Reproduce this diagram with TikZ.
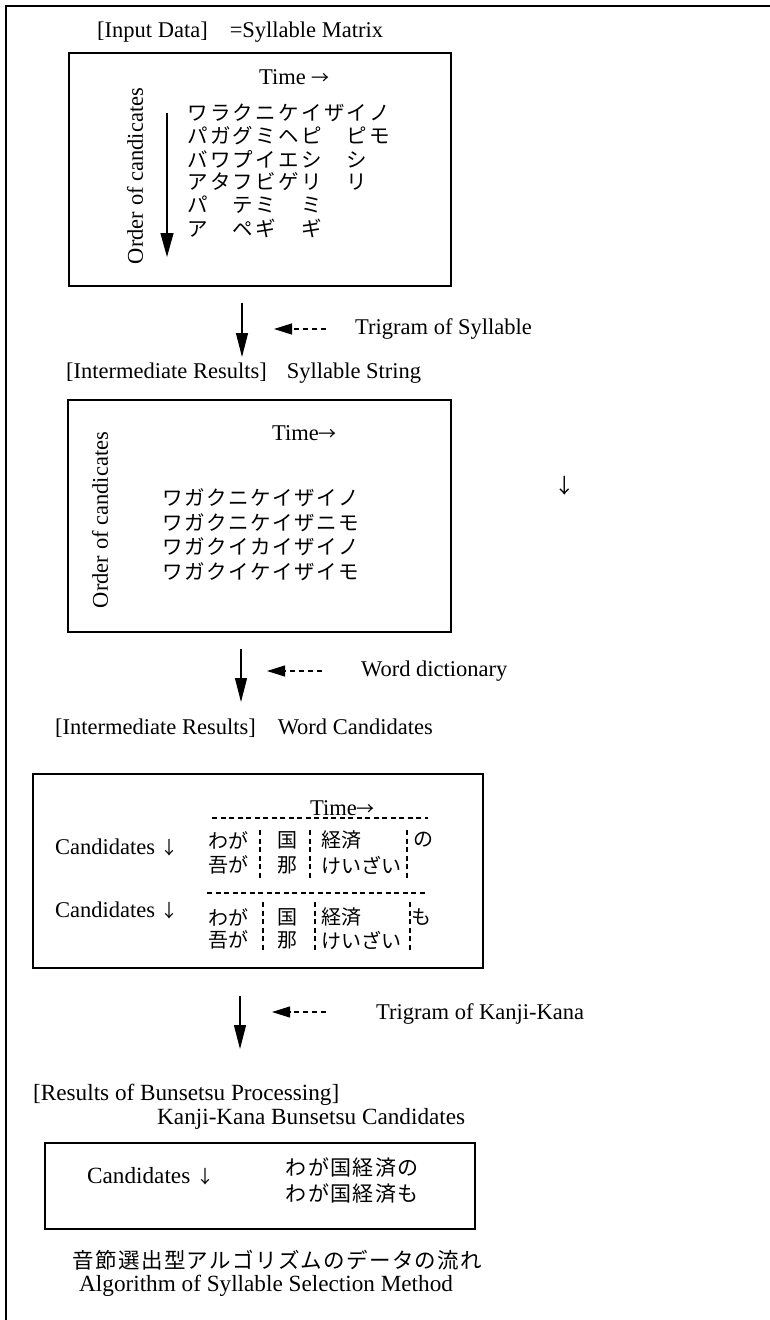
\documentclass[tikz,border=0pt]{standalone}
\usepackage{fontspec}
\setmainfont{Liberation Serif}
\newfontfamily\jp{Noto Sans CJK JP}
\usetikzlibrary{arrows.meta}

% a row of kana set in fixed-width cells: \kanarow{<cell width>}{<characters>}
\makeatletter
\newdimen\kcw
\def\kana@stop{\kana@stop}
\def\kanarow#1#2{\kcw=#1\relax\expandafter\kana@row#2\kana@stop}
\def\kana@row#1{\ifx#1\kana@stop\else\hbox to\kcw{\hss#1\hss}\expandafter\kana@row\fi}
\makeatother

\tikzset{
  lbl/.style={inner sep=0pt, font=\fontsize{22.5}{26}\selectfont},
  kana/.style={inner sep=0pt, font=\jp\fontsize{20.5}{22}\selectfont},
  stagebox/.style={draw, line width=1.6pt, inner sep=0pt},
  flow/.style={line width=1.3pt, -{Triangle[length=24pt,width=12pt]}},
  feed/.style={line width=1.2pt, dash pattern=on 5pt off 4pt, -{Triangle[length=18pt,width=11pt]}},
  sep/.style={line width=1.2pt, dash pattern=on 5pt off 3.5pt},
  frame/.style={line width=1.5pt},
}
\newcommand\dn{{\jp\fontsize{18}{20}\selectfont ↓}}
\newcommand\rt{{\jp\fontsize{18}{20}\selectfont →}}

\begin{document}
\begin{tikzpicture}[x=1pt,y=-1pt]
\useasboundingbox (0,0) rectangle (770,1320);
\draw[frame] (770,6) -- (6,6) -- (6,1320);

% ---- input data: syllable matrix
\node[lbl, anchor=west] (t1) at (97,32) {[Input Data]\hspace{22pt}=Syllable Matrix};
\node[stagebox, minimum width=382pt, minimum height=233pt] (box1) at (260,169.5) {};
\node[lbl, anchor=west] (time1) at (259,77) {Time \rt};
\node[lbl, rotate=90] (ord1) at (135,176) {Order of candicates};
\coordinate (o1s) at (167,113);
\coordinate (o1e) at (167,257);
\draw[line width=1.2pt, -{Triangle[length=24pt,width=13pt]}] (o1s) -- (o1e);
\foreach \r/\s in {0/ワラクニケイザイノ, 1/パガグミヘピ　ピモ, 2/バワプイエシ　シ,
                   3/アタフビゲリ　リ, 4/パ　テミ　ミ, 5/ア　ペギ　ギ}
  \node[kana, anchor=west] (m\r) at (186,113+23*\r) {\kanarow{22.8pt}{\s}};

\coordinate (a1s) at (242,303);
\coordinate (a1e) at (242,357);
\draw[flow] (a1s) -- (a1e);
\node[lbl, anchor=west] (trig1) at (355,329) {Trigram of Syllable};
\coordinate (d1s) at (326,329);
\coordinate (d1e) at (274,329);
\draw[feed] (d1s) -- (d1e);

% ---- syllable string
\node[lbl, anchor=west] (t2) at (66,373) {[Intermediate Results]\hspace{20pt}Syllable String};
\node[stagebox, minimum width=383pt, minimum height=232pt] (box2) at (259.5,516) {};
\node[lbl, anchor=west] (time2) at (272,433) {Time\rt};
\node[lbl, rotate=90] (ord2) at (100,520) {Order of candicates};
\foreach \r/\s in {0/ワガクニケイザイノ, 1/ワガクニケイザニモ, 2/ワガクイカイザイノ, 3/ワガクイケイザイモ}
  \node[kana, anchor=west] (s\r) at (161,498+24.5*\r) {\kanarow{22.1pt}{\s}};
\node[kana] (stray) at (565,486) {↓};

\coordinate (a2s) at (241,649);
\coordinate (a2e) at (241,702);
\draw[flow] (a2s) -- (a2e);
\node[lbl, anchor=west] (wd) at (361,671) {Word dictionary};
\coordinate (d2s) at (322,671);
\coordinate (d2e) at (267,671);
\draw[feed] (d2s) -- (d2e);

% ---- word candidates
\node[lbl, anchor=west] (t3) at (55,728) {[Intermediate Results]\hspace{22pt}Word Candidates};
\node[stagebox, minimum width=450pt, minimum height=194pt] (box3) at (258,871) {};
\node[lbl, anchor=west] (time3) at (310,808) {Time\rt};
\draw[sep] (212,818) -- (428,818);
\draw[sep] (207,893) -- (425,893);
\node[lbl, anchor=west] (cand1) at (55,847) {Candidates \dn};
\node[lbl, anchor=west] (cand2) at (55,910) {Candidates \dn};
\tikzset{cell/.style={kana, font=\jp\fontsize{20}{22}\selectfont}}
% first group
\node[cell, anchor=west] (w1a) at (208,840) {わが};
\node[cell, anchor=west] (w1b) at (208,865) {吾が};
\node[cell] (k1a) at (287,840) {国};
\node[cell] (k1b) at (287,865) {那};
\node[cell, anchor=west] (e1a) at (321,840) {経済};
\node[cell, anchor=west] (e1b) at (321,865) {けいざい};
\node[cell] (p1) at (423,840) {の};
\foreach \x in {260,310,407} \draw[sep] (\x,830) -- (\x,878);
% second group
\node[cell, anchor=west] (w2a) at (208,917) {わが};
\node[cell, anchor=west] (w2b) at (208,940) {吾が};
\node[cell] (k2a) at (287,917) {国};
\node[cell] (k2b) at (287,940) {那};
\node[cell, anchor=west] (e2a) at (321,917) {経済};
\node[cell, anchor=west] (e2b) at (321,940) {けいざい};
\node[cell] (p2) at (421,917) {も};
\foreach \x in {263,315,410} \draw[sep] (\x,902) -- (\x,950);

\coordinate (a3s) at (240,996);
\coordinate (a3e) at (240,1049);
\draw[flow] (a3s) -- (a3e);
\node[lbl, anchor=west] (trig2) at (376,1014) {Trigram of Kanji-Kana};
\coordinate (d3s) at (326,1012);
\coordinate (d3e) at (272,1012);
\draw[feed] (d3s) -- (d3e);

% ---- bunsetsu candidates
\tikzset{lblb/.style={lbl, font=\fontsize{23.2}{26}\selectfont}}
\node[lblb, anchor=west] (t4a) at (33,1095) {[Results of Bunsetsu Processing]};
\node[lblb, anchor=west] (t4b) at (157,1119) {Kanji-Kana Bunsetsu Candidates};
\node[stagebox, minimum width=430pt, minimum height=86pt] (box4) at (260,1186) {};
\node[lblb, anchor=west] (cand3) at (87,1176) {Candidates \dn};
\node[kana, font=\jp\fontsize{21}{22}\selectfont, anchor=west] (b1) at (285,1168) {\kanarow{22.3pt}{わが国経済の}};
\node[kana, font=\jp\fontsize{21}{22}\selectfont, anchor=west] (b2) at (285,1194) {\kanarow{22.3pt}{わが国経済も}};

% ---- caption
\node[kana, font=\jp\fontsize{21.5}{24}\selectfont, anchor=west] (cap1) at (72,1260) {\kanarow{22.8pt}{音節選出型アルゴリズムのデータの流れ}};
\node[lblb, anchor=west] (cap2) at (79,1286) {Algorithm of Syllable Selection Method};
\end{tikzpicture}
\end{document}
